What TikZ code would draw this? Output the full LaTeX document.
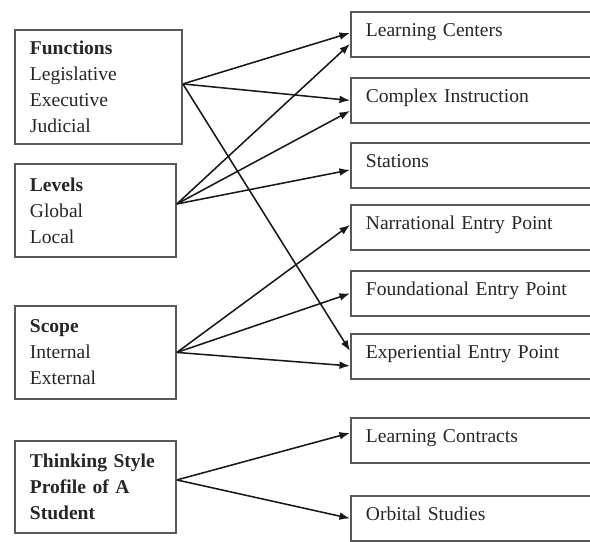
\documentclass[tikz,border=0pt]{standalone}
\usepackage{fontspec}
\setmainfont{Liberation Serif}
\usetikzlibrary{arrows.meta, calc}

\begin{document}
\begin{tikzpicture}[x=0.025cm, y=-0.025cm,
    every node/.style={font=\fontsize{13.9}{18.5}\selectfont, text=black!85},
    leftbox/.style={draw=black!65, line width=1.3pt, anchor=north west, align=left, inner xsep=0.375cm, inner ysep=0pt},
    rightbox/.style={draw=black!65, line width=1.3pt, anchor=north west, align=left, inner xsep=0.375cm, inner ysep=0pt,
        text width=5.75cm, minimum height=1.125cm, text depth=6pt},
    link/.style={draw=black!90, line width=1.1pt, -{Latex[length=7.5pt, width=5.5pt]}}
]
    % frame
    \useasboundingbox (0,0) rectangle (590,541);
    \clip (0,0) rectangle (590,541);

    % left boxes
    \node[leftbox, text width=3.425cm, minimum height=2.85cm] (fn) at (14,29)
        {\textbf{Functions}\\Legislative\\Executive\\Judicial};
    \node[leftbox, text width=3.275cm, minimum height=2.325cm] (lv) at (14,163)
        {\textbf{Levels}\\Global\\Local};
    \node[leftbox, text width=3.275cm, minimum height=2.325cm] (sc) at (14,305)
        {\textbf{Scope}\\Internal\\External};
    \node[leftbox, text width=3.275cm, minimum height=2.3cm] (ts) at (14,440)
        {\textbf{Thinking Style}\\\textbf{Profile of A}\\\textbf{Student}};

    % right boxes
    \node[rightbox] (lc) at (350,11) {Learning Centers};
    \node[rightbox] (ci) at (350,77) {Complex Instruction};
    \node[rightbox] (st) at (350,142) {Stations};
    \node[rightbox] (na) at (350,204) {Narrational Entry Point};
    \node[rightbox] (fo) at (350,270) {Foundational Entry Point};
    \node[rightbox] (ex) at (350,333) {Experiential Entry Point};
    \node[rightbox] (lcon) at (350,417) {Learning Contracts};
    \node[rightbox] (ob) at (350,495) {Orbital Studies};

    % start points
    \coordinate (fnout) at ($(fn.east)+(0,-3)$);
    \coordinate (lvout) at ($(lv.east)+(0,-6.5)$);
    \coordinate (scout) at (sc.east);
    \coordinate (tsout) at ($(ts.east)+(0,-7)$);

    \draw[link] (fnout) -- ($(lc.west)+(0,-1.5)$);
    \draw[link] (fnout) -- (ci.west);
    \draw[link] (fnout) -- ($(ex.west)+(0,-5.5)$);

    \draw[link] (lvout) -- ($(lc.west)+(0,9.5)$);
    \draw[link] (lvout) -- ($(ci.west)+(0,10.5)$);
    \draw[link] (lvout) -- ($(st.west)+(0,4.5)$);

    \draw[link] (scout) -- ($(na.west)+(0,-2.5)$);
    \draw[link] (scout) -- (fo.west);
    \draw[link] (scout) -- ($(ex.west)+(0,9.5)$);

    \draw[link] (tsout) -- ($(lcon.west)+(0,-7.5)$);
    \draw[link] (tsout) -- (ob.west);
\end{tikzpicture}
\end{document}
